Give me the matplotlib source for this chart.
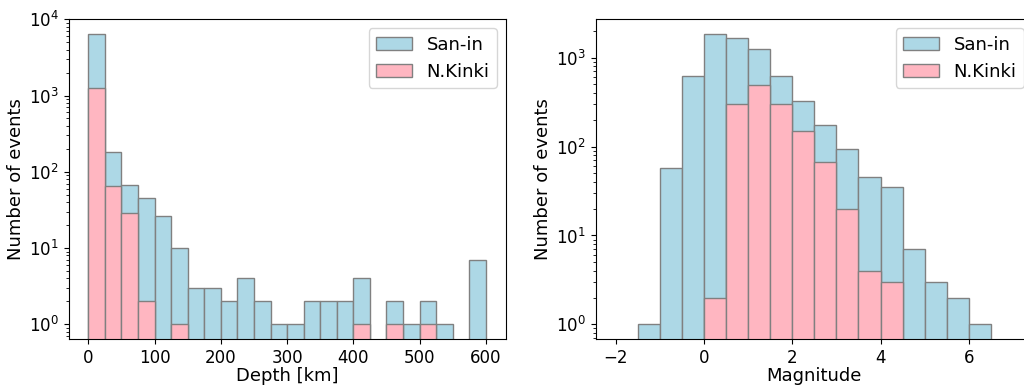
import numpy as np
import matplotlib
matplotlib.use("Agg")
import matplotlib.pyplot as plt

# Depth histogram (bin width 25 km, 0-600 km)
depth_edges = list(range(0, 625, 25))
depth_sanin = [6470, 184, 67, 45, 26, 10, 3, 3, 2, 4, 2, 1, 1, 2, 2, 2, 4, 0, 2, 1, 2, 1, 0, 7]
depth_nkinki = [1245, 66, 29, 2, 0, 1, 0, 0, 0, 0, 0, 0, 0, 0, 0, 0, 1, 0, 1, 0, 1, 0, 0, 0]

# Magnitude histogram (bin width 0.5, -1.5 to 6.5)
mag_edges = [-1.5 + 0.5 * i for i in range(17)]
mag_sanin = [1, 57, 617, 1857, 1648, 1260, 626, 327, 176, 93, 45, 35, 7, 3, 2, 1]
mag_nkinki = [0, 0, 0, 2, 301, 488, 301, 148, 67, 20, 4, 3, 0, 0, 0, 0]

series_labels = ["San-in", "N.Kinki"]
colors = ["lightblue", "lightpink"]

plt.rcParams['font.family'] = ['DejaVu Sans']
plt.rcParams['font.size'] = 12

fig = plt.figure(figsize=(10.24, 3.85), dpi=100)
ax1 = fig.add_axes([68.5 / 1024, 1 - 339 / 385, 437.2 / 1024, (339 - 19.3) / 385])
ax2 = fig.add_axes([595.7 / 1024, 1 - 339 / 385, 437.2 / 1024, (339 - 19.3) / 385])


def draw(ax, edges, series):
    edges = np.asarray(edges, dtype=float)
    lefts = edges[:-1]
    widths = np.diff(edges)
    for vals, lab, col in zip(series, series_labels, colors):
        vals = np.asarray(vals, dtype=float)
        m = vals > 0
        ax.bar(lefts[m], vals[m], width=widths[m], align='edge', color=col,
               edgecolor='gray', linewidth=1, label=lab)
    ax.set_yscale('log')
    ax.tick_params(labelsize=12)
    ax.set_ylabel("Number of events", fontsize=13, labelpad=3)
    ax.legend(loc='upper right', fontsize=13)


draw(ax1, depth_edges, [depth_sanin, depth_nkinki])
ax1.set_xlim(-30, 630)
ax1.set_ylim(0.641, 1e4)
ax1.set_xticks([0, 100, 200, 300, 400, 500, 600])
ax1.set_xlabel("Depth [km]", fontsize=13, labelpad=0.5)

draw(ax2, mag_edges, [mag_sanin, mag_nkinki])
ax2.set_xlim(-2.45, 7.45)
ax2.set_ylim(0.684, 2704)
ax2.set_xticks([-2, 0, 2, 4, 6])
ax2.set_xlabel("Magnitude", fontsize=13, labelpad=0.5)

fig.savefig("out.png", dpi=100)
